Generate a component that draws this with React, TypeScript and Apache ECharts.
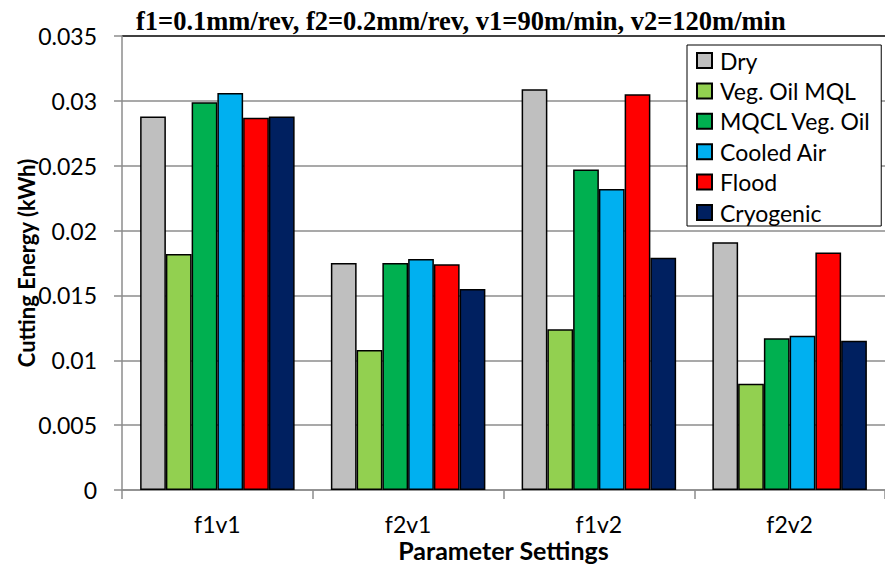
import React, { useEffect, useRef } from "react";
import * as echarts from "echarts";

const categories = ["f1v1", "f2v1", "f1v2", "f2v2"];
const seriesNames = ["Dry", "Veg. Oil MQL", "MQCL Veg. Oil", "Cooled Air", "Flood", "Cryogenic"];
const seriesColors = ["#BFBFBF", "#92D050", "#00B050", "#00B0F0", "#FF0000", "#002060"];

const dry = [0.0288, 0.0175, 0.0309, 0.0191];
const vegOilMql = [0.0182, 0.0108, 0.0124, 0.0082];
const mqclVegOil = [0.0299, 0.0175, 0.0247, 0.0117];
const cooledAir = [0.0306, 0.0178, 0.0232, 0.0119];
const flood = [0.0287, 0.0174, 0.0305, 0.0183];
const cryogenic = [0.0288, 0.0155, 0.0179, 0.0115];

const seriesValues = [dry, vegOilMql, mqclVegOil, cooledAir, flood, cryogenic];

const titleText = "f1=0.1mm/rev, f2=0.2mm/rev, v1=90m/min, v2=120m/min";
const yTitle = "Cutting Energy (kWh)";
const xTitle = "Parameter Settings";

const FONT = "Lato, 'Open Sans', sans-serif";
const GRID_GRAY = "#8C8C8C";

export default function App() {
  const ref = useRef<HTMLDivElement>(null);

  useEffect(() => {
    document.body.style.margin = "0";
    if (!ref.current) return;
    const chart = echarts.init(ref.current, null, { renderer: "svg" });
    chart.setOption({
      animation: false,
      backgroundColor: "#ffffff",
      title: {
        text: titleText,
        left: 131,
        top: 2,
        textStyle: {
          fontFamily: "'Liberation Serif', 'Times New Roman', serif",
          fontWeight: "bold",
          fontSize: 26.5,
          color: "#000",
        },
      },
      legend: {
        orient: "vertical",
        left: 687,
        top: 45,
        padding: [4, 10, 2, 9],
        itemGap: 7.4,
        itemWidth: 15,
        itemHeight: 15,
        backgroundColor: "#ffffff",
        borderColor: "#000",
        borderWidth: 1,
        textStyle: { fontFamily: FONT, fontSize: 23, color: "#000", lineHeight: 23, padding: [0, 0, 0, 3] },
        data: seriesNames.map((n) => ({ name: n, icon: "rect" })),
      },
      grid: { left: 122, right: -2, top: 36, bottom: 76, containLabel: false },
      xAxis: {
        type: "category",
        data: categories,
        name: xTitle,
        nameLocation: "middle",
        nameGap: 47,
        nameMoveOverlap: false,
        nameTextStyle: { fontFamily: FONT, fontSize: 25, fontWeight: "bold", color: "#000" },
        axisLine: { lineStyle: { color: GRID_GRAY, width: 1.5 } },
        axisTick: { show: true, length: 9, lineStyle: { color: GRID_GRAY, width: 1.5 } },
        axisLabel: { fontFamily: FONT, fontSize: 23, color: "#000", margin: 22 },
      },
      yAxis: {
        type: "value",
        min: 0,
        max: 0.035,
        interval: 0.005,
        name: yTitle,
        nameLocation: "middle",
        nameGap: 85,
        nameMoveOverlap: false,
        nameRotate: 90,
        nameTextStyle: { fontFamily: FONT, fontSize: 22, fontWeight: "bold", color: "#000" },
        axisLine: { show: true, lineStyle: { color: GRID_GRAY, width: 1.5 } },
        axisTick: { show: true, length: 8, lineStyle: { color: GRID_GRAY, width: 1.5 } },
        axisLabel: {
          fontFamily: FONT,
          fontSize: 23,
          color: "#000",
          margin: 25,
          formatter: (v: number) => String(parseFloat(v.toFixed(3))),
        },
        splitLine: {
          show: true,
          lineStyle: {
            color: [GRID_GRAY, GRID_GRAY, GRID_GRAY, GRID_GRAY, GRID_GRAY, GRID_GRAY, GRID_GRAY, "#000"],
            width: 1.5,
          },
        },
      },
      series: seriesNames.map((name, i) => ({
        name,
        type: "bar",
        data: seriesValues[i],
        barGap: "0%",
        barCategoryGap: "19%",
        itemStyle: { color: seriesColors[i], borderColor: "#000", borderWidth: 1.5 },
      })),
    });
    return () => chart.dispose();
  }, []);

  return <div ref={ref} style={{ width: 885, height: 567 }} />;
}
